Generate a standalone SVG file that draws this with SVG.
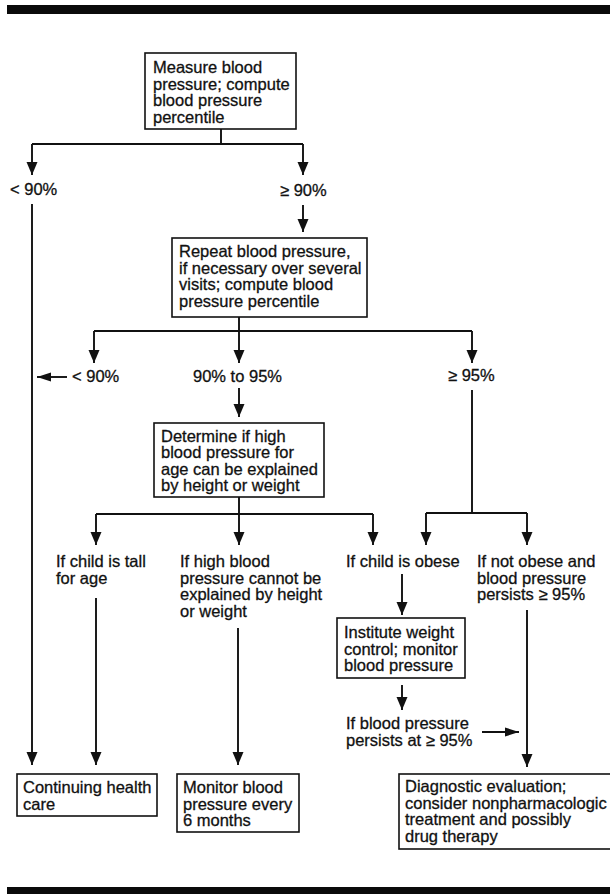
<svg xmlns="http://www.w3.org/2000/svg" width="610" height="894" viewBox="0 0 610 894">
<style>
text{font-family:"Liberation Sans",Arial,Helvetica,sans-serif;font-size:16.5px;fill:#111;stroke:#111;stroke-width:0.3}
.box{fill:#fff;stroke:#111;stroke-width:1.6}
.ln{fill:none;stroke:#111;stroke-width:1.9}
.bar{fill:#0a0a0a}
</style>
<defs>
<marker id="ah" markerUnits="userSpaceOnUse" markerWidth="13" markerHeight="12" viewBox="0 0 13 12" refX="13" refY="6" orient="auto">
<path d="M0,0.5 L13,6 L0,11.5 z" fill="#111"/>
</marker>
<marker id="ahs" markerUnits="userSpaceOnUse" markerWidth="14" markerHeight="10" viewBox="0 0 14 10" refX="14" refY="5" orient="auto">
<path d="M0,0.5 L14,5 L0,9.5 z" fill="#111"/>
</marker>
</defs>
<rect class="bar" x="7" y="5" width="603" height="9"/>
<rect class="bar" x="7" y="887" width="603" height="8"/>

<g id="connectors">
<path class="ln" d="M221,129 V144 M32,144 H303"/>
<path class="ln" d="M32,144 V175" marker-end="url(#ah)"/>
<path class="ln" d="M303,144 V175" marker-end="url(#ah)"/>
<path class="ln" d="M303,205 V232" marker-end="url(#ah)"/>
<path class="ln" d="M32,204 V765" marker-end="url(#ah)"/>
<path class="ln" d="M239,317 V331 M94,331 H472"/>
<path class="ln" d="M94,331 V363" marker-end="url(#ah)"/>
<path class="ln" d="M239,331 V363" marker-end="url(#ah)"/>
<path class="ln" d="M472,331 V363" marker-end="url(#ah)"/>
<path class="ln" d="M67,377 H37" marker-end="url(#ahs)"/>
<path class="ln" d="M239,388 V417" marker-end="url(#ah)"/>
<path class="ln" d="M239,497 V514 M96,514 H373"/>
<path class="ln" d="M96,514 V545" marker-end="url(#ah)"/>
<path class="ln" d="M239,514 V545" marker-end="url(#ah)"/>
<path class="ln" d="M373,514 V545" marker-end="url(#ah)"/>
<path class="ln" d="M472,390 V513 M426,513 H527"/>
<path class="ln" d="M426,513 V545" marker-end="url(#ah)"/>
<path class="ln" d="M527,513 V545" marker-end="url(#ah)"/>
<path class="ln" d="M96,598 V765" marker-end="url(#ah)"/>
<path class="ln" d="M238,628 V765" marker-end="url(#ah)"/>
<path class="ln" d="M402,574 V615" marker-end="url(#ah)"/>
<path class="ln" d="M402,685 V710" marker-end="url(#ah)"/>
<path class="ln" d="M527,610 V767" marker-end="url(#ah)"/>
<path class="ln" d="M482,732 H519" marker-end="url(#ahs)"/>
</g>

<g id="n-measure">
<rect class="box" x="145" y="53" width="151" height="76"/>
<text x="153" y="73">Measure blood</text>
<text x="153" y="89.5">pressure; compute</text>
<text x="153" y="106">blood pressure</text>
<text x="153" y="122.5">percentile</text>
</g>
<g id="l-lt90"><text x="10" y="195">&lt; 90%</text></g>
<g id="l-ge90"><text x="280" y="195.5">≥ 90%</text></g>

<g id="n-repeat">
<rect class="box" x="172" y="238" width="195" height="79"/>
<text x="179" y="257">Repeat blood pressure,</text>
<text x="179" y="273.5">if necessary over several</text>
<text x="179" y="290">visits; compute blood</text>
<text x="179" y="306.5">pressure percentile</text>
</g>
<g id="l-lt90b"><text x="72" y="382">&lt; 90%</text></g>
<g id="l-90to95"><text x="193" y="382">90% to 95%</text></g>
<g id="l-ge95"><text x="448" y="381">≥ 95%</text></g>

<g id="n-determine">
<rect class="box" x="154" y="423" width="170" height="74"/>
<text x="161" y="441.5">Determine if high</text>
<text x="161" y="458">blood pressure for</text>
<text x="161" y="474.5">age can be explained</text>
<text x="161" y="491">by height or weight</text>
</g>

<g id="l-tall">
<text x="56" y="567">If child is tall</text>
<text x="56" y="583.5">for age</text>
</g>
<g id="l-cannot">
<text x="180" y="567">If high blood</text>
<text x="180" y="583.5">pressure cannot be</text>
<text x="180" y="600">explained by height</text>
<text x="180" y="616.5">or weight</text>
</g>
<g id="l-obese"><text x="346" y="567">If child is obese</text></g>
<g id="l-notobese">
<text x="477" y="567">If not obese and</text>
<text x="477" y="583.5">blood pressure</text>
<text x="477" y="600">persists ≥ 95%</text>
</g>

<g id="n-weight">
<rect class="box" x="337" y="618" width="128" height="60"/>
<text x="344" y="638">Institute weight</text>
<text x="344" y="654.5">control; monitor</text>
<text x="344" y="671">blood pressure</text>
</g>
<g id="l-persists">
<text x="346" y="729">If blood pressure</text>
<text x="346" y="745.5">persists at ≥ 95%</text>
</g>

<g id="n-continuing">
<rect class="box" x="17" y="774" width="140" height="42"/>
<text x="23" y="793">Continuing health</text>
<text x="23" y="809.5">care</text>
</g>
<g id="n-monitor">
<rect class="box" x="177" y="774" width="122" height="58"/>
<text x="183" y="793">Monitor blood</text>
<text x="183" y="809.5">pressure every</text>
<text x="183" y="826">6 months</text>
</g>
<g id="n-diagnostic">
<rect class="box" x="399" y="774" width="212" height="75"/>
<text x="405" y="792">Diagnostic evaluation;</text>
<text x="405" y="808.5">consider nonpharmacologic</text>
<text x="405" y="825">treatment and possibly</text>
<text x="405" y="841.5">drug therapy</text>
</g>
</svg>
